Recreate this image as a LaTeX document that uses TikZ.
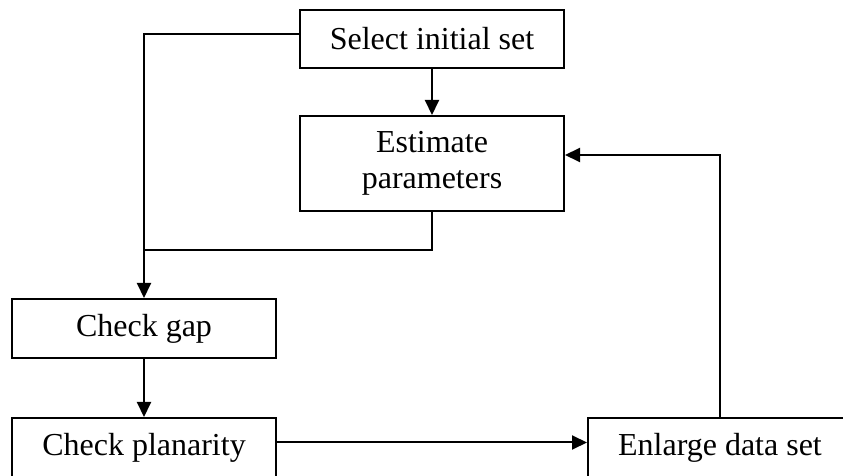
\documentclass[tikz,border=0pt]{standalone}
\usepackage{fontspec}
\setmainfont{Liberation Serif}
\usetikzlibrary{arrows.meta,calc}
\begin{document}
\begin{tikzpicture}[x=0.5pt,y=-0.5pt,
  box/.style={draw=black,line width=1pt,minimum width=132pt,inner sep=0pt,align=center,
    font=\fontsize{16}{18}\selectfont},
  arr/.style={line width=1pt,-{Triangle[length=7.5pt,width=7pt]}},
  ln/.style={line width=1pt}]
\useasboundingbox (0,0) rectangle (843,476);
\clip (0,0) rectangle (843,476);
\node[box,minimum height=29pt] (sel) at (432,39) {Select initial set};
\node[box,minimum height=47.5pt] (est) at (432,163.5) {Estimate\\parameters};
\node[box,minimum height=29.5pt] (gap) at (144,328.5) {Check gap};
\node[box,minimum height=29.5pt] (plan) at (144,447.5) {Check planarity};
\node[box,minimum height=29.5pt] (enl) at (720,447.5) {Enlarge data set};
\coordinate (j) at (144,250);
\draw[arr] (sel.south) -- (est.north);
\draw[arr] ($(sel.west)+(0,-5)$) -| (gap.north);
\draw[ln] (est.south) |- (j);
\draw[arr] (gap.south) -- (plan.north);
\draw[arr] ($(plan.east)+(0,-5)$) -- ($(enl.west)+(0,-5)$);
\draw[arr] (enl.north) |- ($(est.east)+(0,-8.5)$);
\end{tikzpicture}
\end{document}
